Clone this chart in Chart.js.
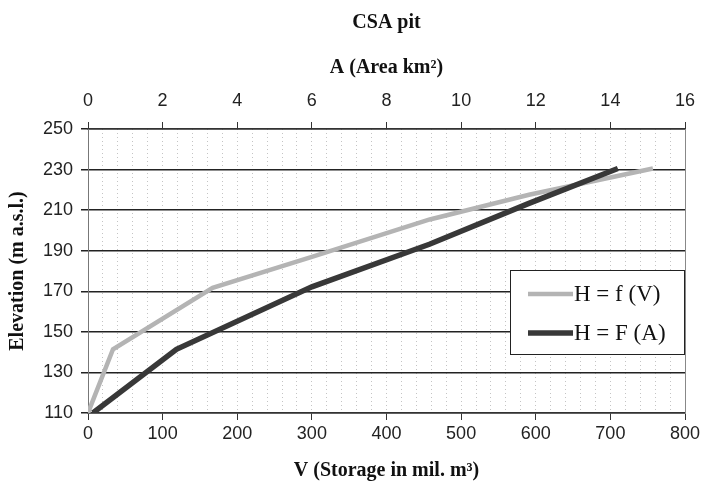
<!DOCTYPE html>
<html>
<head>
<meta charset="utf-8">
<title>CSA pit</title>
<script src="https://cdn.jsdelivr.net/npm/chart.js@4.4.1/dist/chart.umd.min.js"></script>
<style>
  html, body { margin: 0; padding: 0; background: #fff; }
  #wrap { width: 702px; height: 491px; }
</style>
</head>
<body>
<div id="wrap"><canvas id="pitChart" width="702" height="491"></canvas></div>
<script>
// chart texts
const chartTitle = 'CSA pit';
const seriesNames = ['H = f (V)', 'H = F (A)'];
const storageTitle = 'V (Storage in mil. m³)';
const areaTitle = 'A (Area km²)';
const elevationTitle = 'Elevation (m a.s.l.)';

// H = f(V): storage (mil. m3) vs elevation
const storageV = [0, 33.5, 167, 300, 458, 591, 757];
const elevationV = [110, 141.4, 171.7, 187, 205.4, 217.6, 230.5];

// H = F(A): area (km2) vs elevation
const areaA = [0.13, 2.37, 6.0, 9.15, 11.8, 14.2];
const elevationA = [110, 141.4, 172.2, 193.2, 213.2, 230.5];

// tick labels
const storageTicks = [0, 100, 200, 300, 400, 500, 600, 700, 800];
const areaTicks = [0, 2, 4, 6, 8, 10, 12, 14, 16];
const elevationTicks = [110, 130, 150, 170, 190, 210, 230, 250];

const tickFont = { family: '"Liberation Sans", Arial, sans-serif', size: 18 };
const titleFont = { family: '"Liberation Serif", "Times New Roman", serif', size: 20, weight: 'bold' };

// legend drawn as a boxed key inside the plot, like the original
const boxLegend = {
    id: 'boxLegend',
    afterDatasetsDraw(chart) {
        const { ctx, chartArea } = chart;
        const w = 175, h = 85;
        const x = chartArea.right - w;
        const y = chartArea.top + 141;
        ctx.save();
        ctx.fillStyle = '#fff';
        ctx.fillRect(x, y, w, h);
        ctx.strokeStyle = '#222';
        ctx.lineWidth = 1;
        ctx.strokeRect(x + 0.5, y + 0.5, w - 1, h - 1);
        ctx.font = '23px "Liberation Serif", "Times New Roman", serif';
        ctx.textBaseline = 'middle';
        chart.data.datasets.forEach((ds, i) => {
            const cy = y + 24 + i * 39;
            ctx.strokeStyle = ds.borderColor;
            ctx.lineWidth = ds.borderWidth;
            ctx.beginPath();
            ctx.moveTo(x + 18, cy);
            ctx.lineTo(x + 63, cy);
            ctx.stroke();
            ctx.fillStyle = '#111';
            ctx.fillText(ds.label, x + 64, cy + 1);
        });
        ctx.restore();
    }
};

// keep the plot edges fixed, labels may overhang
const fixX = h => s => { s.height = h; s.paddingLeft = 0; s.paddingRight = 0; };

const ctx = document.getElementById('pitChart').getContext('2d');
const chart = new Chart(ctx, {
    type: 'line',
    data: {
        datasets: [{
            label: seriesNames[0],
            data: storageV.map((v, i) => ({ x: v, y: elevationV[i] })),
            xAxisID: 'x',
            yAxisID: 'y',
            borderColor: '#b4b4b4',
            borderWidth: 4.5,
            pointRadius: 0,
            tension: 0,
            order: 1
        }, {
            label: seriesNames[1],
            data: areaA.map((a, i) => ({ x: a, y: elevationA[i] })),
            xAxisID: 'xA',
            yAxisID: 'y',
            borderColor: '#383838',
            borderWidth: 5.5,
            pointRadius: 0,
            tension: 0,
            order: 0
        }]
    },
    options: {
        responsive: false,
        animation: false,
        layout: { padding: { left: 0, right: 17, top: 0, bottom: 0 } },
        scales: {
            x: {
                type: 'linear',
                position: 'bottom',
                min: storageTicks[0],
                max: storageTicks[storageTicks.length - 1],
                ticks: {
                    stepSize: 20,  // minor dotted grid every 20
                    autoSkip: false,
                    maxRotation: 0,
                    padding: 3,
                    font: tickFont,
                    color: '#222',
                    callback: v => storageTicks.includes(v) ? String(v) : ''
                },
                grid: {
                    color: '#c4c4c4',
                    lineWidth: 1,
                    tickLength: 7,
                    tickColor: c => storageTicks.includes(c.tick.value) ? '#333' : 'rgba(0,0,0,0)'
                },
                border: { display: true, color: '#333', width: 1.5, dash: [1, 3] },
                title: { display: true, text: storageTitle, font: titleFont, color: '#111', padding: { top: 0, bottom: 8 } },
                afterFit: fixX(78)
            },
            xA: {
                type: 'linear',
                position: 'top',
                min: areaTicks[0],
                max: areaTicks[areaTicks.length - 1],
                ticks: { stepSize: 2, padding: 10, maxRotation: 0, font: tickFont, color: '#222' },
                grid: { drawOnChartArea: false, tickLength: 7, color: '#333' },
                border: { display: true, color: '#333', width: 1.5 },
                title: { display: true, text: areaTitle, font: titleFont, color: '#111', padding: { top: 21, bottom: 0 } },
                afterFit: fixX(94)
            },
            y: {
                type: 'linear',
                position: 'left',
                min: elevationTicks[0],
                max: elevationTicks[elevationTicks.length - 1],
                ticks: { stepSize: 20, padding: 8, font: tickFont, color: '#222' },
                grid: { color: '#222', lineWidth: 1.5, tickLength: 7 },
                border: { display: true, color: '#777', width: 1 },
                title: { display: true, text: elevationTitle, font: titleFont, color: '#111', padding: { top: 6, bottom: 0 } },
                afterFit: s => { s.width = 88; }
            },
            yRight: {
                type: 'linear',
                position: 'right',
                min: elevationTicks[0],
                max: elevationTicks[elevationTicks.length - 1],
                ticks: { display: false },
                grid: { drawOnChartArea: false, drawTicks: false },
                border: { display: true, color: '#888', width: 1 },
                afterFit: s => { s.width = 0; }
            }
        },
        plugins: {
            legend: { display: false },
            tooltip: { enabled: false },
            title: {
                display: true,
                text: chartTitle,
                fullSize: false,
                font: titleFont,
                color: '#111',
                padding: { top: 11, bottom: 0 }
            }
        }
    },
    plugins: [boxLegend]
});
</script>
</body>
</html>
